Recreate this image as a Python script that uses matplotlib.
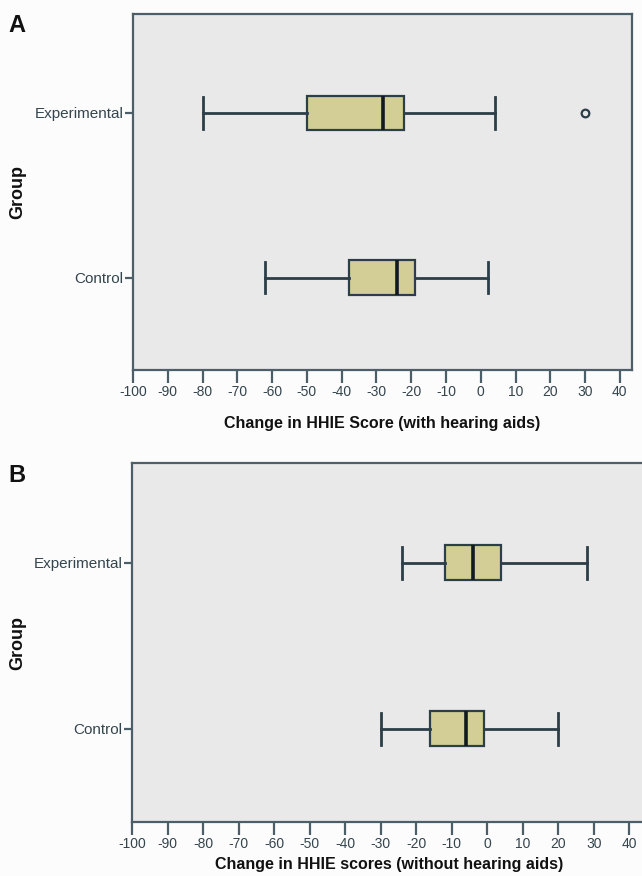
import matplotlib
matplotlib.use("Agg")
import matplotlib.pyplot as plt
from matplotlib import font_manager

groups = ["Control", "Experimental"]

# Panel A: change in HHIE score (with hearing aids)
a_whislo = [-62, -80]
a_q1 = [-38, -50]
a_med = [-24, -28]
a_q3 = [-19, -22]
a_whishi = [2, 4]
a_fliers = [[], [30]]

# Panel B: change in HHIE scores (without hearing aids)
b_whislo = [-30, -24]
b_q1 = [-16, -12]
b_med = [-6, -4]
b_q3 = [-1, 4]
b_whishi = [20, 28]
b_fliers = [[], []]

xticks = list(range(-100, 41, 10))

names = {f.name for f in font_manager.fontManager.ttflist}
narrow = "Liberation Sans Narrow" if "Liberation Sans Narrow" in names else "Liberation Sans"

BG = "#E9E9E9"
FILL = "#D3CE96"
EDGE = "#2C3E48"
SPINE = "#4C5F68"
TXT = "#34454D"

fig = plt.figure(figsize=(6.42, 8.76), dpi=100, facecolor="#FCFCFC")
W, H = 642.0, 876.0


def panel(rect_px, whislo, q1, med, q3, whishi, fliers, xmax, xlabel, letter, lpad):
    l, t, r, b = rect_px
    ax = fig.add_axes([l / W, 1 - b / H, (r - l) / W, (b - t) / H])
    ax.set_facecolor(BG)
    stats = []
    for i in range(len(groups)):
        stats.append(dict(whislo=whislo[i], q1=q1[i], med=med[i], q3=q3[i],
                          whishi=whishi[i], fliers=fliers[i], label=groups[i]))
    ax.bxp(stats, positions=[0, 1], vert=False, widths=0.21, patch_artist=True,
           boxprops=dict(facecolor=FILL, edgecolor=EDGE, linewidth=1.6),
           medianprops=dict(color="#111A20", linewidth=2.6),
           whiskerprops=dict(color=EDGE, linewidth=2.0),
           capprops=dict(color=EDGE, linewidth=2.0),
           capwidths=0.19,
           flierprops=dict(marker="o", markersize=5.5, markerfacecolor="none",
                           markeredgecolor=EDGE, markeredgewidth=1.6))
    ax.set_xlim(-100, xmax)
    ax.set_ylim(-0.56, 1.6)
    ax.set_xticks(xticks)
    ax.set_xticklabels([str(v) for v in xticks], fontfamily=narrow, fontsize=10, color=TXT)
    ax.set_yticks([0, 1])
    ax.set_yticklabels(groups, fontfamily=narrow, fontsize=11, color=TXT)
    ax.tick_params(axis="x", direction="out", length=9, width=1.6, color=SPINE, pad=2)
    ax.tick_params(axis="y", direction="out", length=6, width=1.6, color=SPINE, pad=1)
    for s in ax.spines.values():
        s.set_color(SPINE)
        s.set_linewidth(1.6)
    ax.set_xlabel(xlabel, fontfamily="Liberation Sans", fontweight="bold",
                  fontsize=11.5, color="#111111", labelpad=lpad)
    fig.text(18 / W, 1 - ((t + b) / 2) / H, "Group", rotation=90,
             fontfamily="Liberation Sans", fontweight="bold", fontsize=13,
             color="#111111", ha="center", va="center")
    fig.text(8 / W, 1 - (t + 12) / H, letter, fontfamily="Liberation Sans",
             fontweight="bold", fontsize=17, color="#111111", ha="left", va="center")
    return ax


panel((133, 14, 632, 370), a_whislo, a_q1, a_med, a_q3, a_whishi, a_fliers,
      43.5, "Change in HHIE Score (with hearing aids)", "A", 12)
panel((132, 463, 647, 822), b_whislo, b_q1, b_med, b_q3, b_whishi, b_fliers,
      45, "Change in HHIE scores (without hearing aids)", "B", 4)

fig.savefig("out.png", dpi=100, facecolor=fig.get_facecolor())
